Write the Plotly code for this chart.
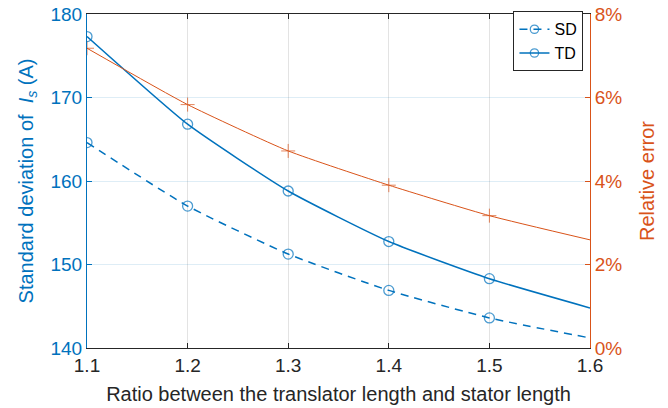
import plotly.graph_objects as go

ratio = [1.1, 1.2, 1.3, 1.4, 1.5, 1.6]
sd_vals = [164.6, 157.0, 151.25, 146.9, 143.6, 141.2]
td_vals = [177.3, 166.8, 158.8, 152.75, 148.3, 144.8]
rel_err = [0.0718, 0.0583, 0.0472, 0.0390, 0.0317, 0.0259]
marker_sizes = [10, 10, 10, 10, 10, 0]

BLUE = "#0072BD"
ORANGE = "#D95319"
FONT = "Liberation Sans, Arial, Helvetica, sans-serif"

fig = go.Figure()
fig.add_trace(go.Scatter(
    x=ratio, y=sd_vals, name="SD", mode="lines+markers",
    line=dict(color=BLUE, width=1.5, dash="8px,6px", shape="spline", smoothing=0.5),
    marker=dict(symbol="circle-open", size=marker_sizes, color=BLUE, line=dict(width=1.3, color=BLUE)),
))
fig.add_trace(go.Scatter(
    x=ratio, y=td_vals, name="TD", mode="lines+markers",
    line=dict(color=BLUE, width=1.5, shape="spline", smoothing=0.5),
    marker=dict(symbol="circle-open", size=marker_sizes, color=BLUE, line=dict(width=1.3, color=BLUE)),
))
fig.add_trace(go.Scatter(
    x=ratio, y=rel_err, name="Relative error", mode="lines+markers", yaxis="y2",
    showlegend=False,
    line=dict(color=ORANGE, width=1, shape="spline", smoothing=0.5),
    marker=dict(symbol="cross-thin", size=marker_sizes, color=ORANGE, line=dict(width=1, color=ORANGE)),
))

fig.update_layout(
    width=668, height=408,
    margin=dict(l=87, r=78, t=13, b=60),
    paper_bgcolor="white", plot_bgcolor="white",
    font=dict(family=FONT, size=18, color="black"),
    xaxis=dict(
        range=[1.1, 1.6], tickvals=[1.1, 1.2, 1.3, 1.4, 1.5, 1.6],
        ticktext=["1.1", "1.2", "1.3", "1.4", "1.5", "1.6"],
        showline=True, linecolor="#262626", linewidth=1, mirror="ticks",
        ticks="inside", ticklen=5, tickcolor="#262626",
        showgrid=True, gridcolor="rgba(38,38,38,0.13)", gridwidth=1,
        zeroline=False, automargin=False,
        tickfont=dict(size=19, color="#262626"),
        title=dict(text="Ratio between the translator length and stator length",
                   font=dict(size=20, color="#262626"), standoff=12),
    ),
    yaxis=dict(
        range=[140, 180], tickvals=[140, 150, 160, 170, 180],
        showline=True, linecolor=BLUE, linewidth=1,
        ticks="inside", ticklen=5, tickcolor=BLUE,
        showgrid=True, gridcolor="rgba(0,114,189,0.13)", gridwidth=1,
        zeroline=False, automargin=False,
        tickfont=dict(size=19, color=BLUE),
        title=dict(text="Standard deviation of  <i>I</i><sub><i>s</i></sub> (A)",
                   font=dict(size=20, color=BLUE), standoff=11),
    ),
    yaxis2=dict(
        range=[0, 0.08], tickvals=[0, 0.02, 0.04, 0.06, 0.08],
        ticktext=["0%", "2%", "4%", "6%", "8%"],
        overlaying="y", side="right", anchor="x",
        showline=True, linecolor=ORANGE, linewidth=1,
        ticks="inside", ticklen=5, tickcolor=ORANGE,
        showgrid=False, zeroline=False, automargin=False,
        tickfont=dict(size=19, color=ORANGE),
        title=dict(text="Relative error", font=dict(size=20, color=ORANGE), standoff=18),
    ),
    legend=dict(
        x=0.987, y=1.005, xanchor="right", yanchor="top",
        bgcolor="white", bordercolor="#262626", borderwidth=1,
        font=dict(size=16, color="black"),
        tracegroupgap=0,
    ),
    showlegend=True,
)

fig.write_html("out.html", config={"displayModeBar": False},
               post_script="document.body.style.margin='0';")
